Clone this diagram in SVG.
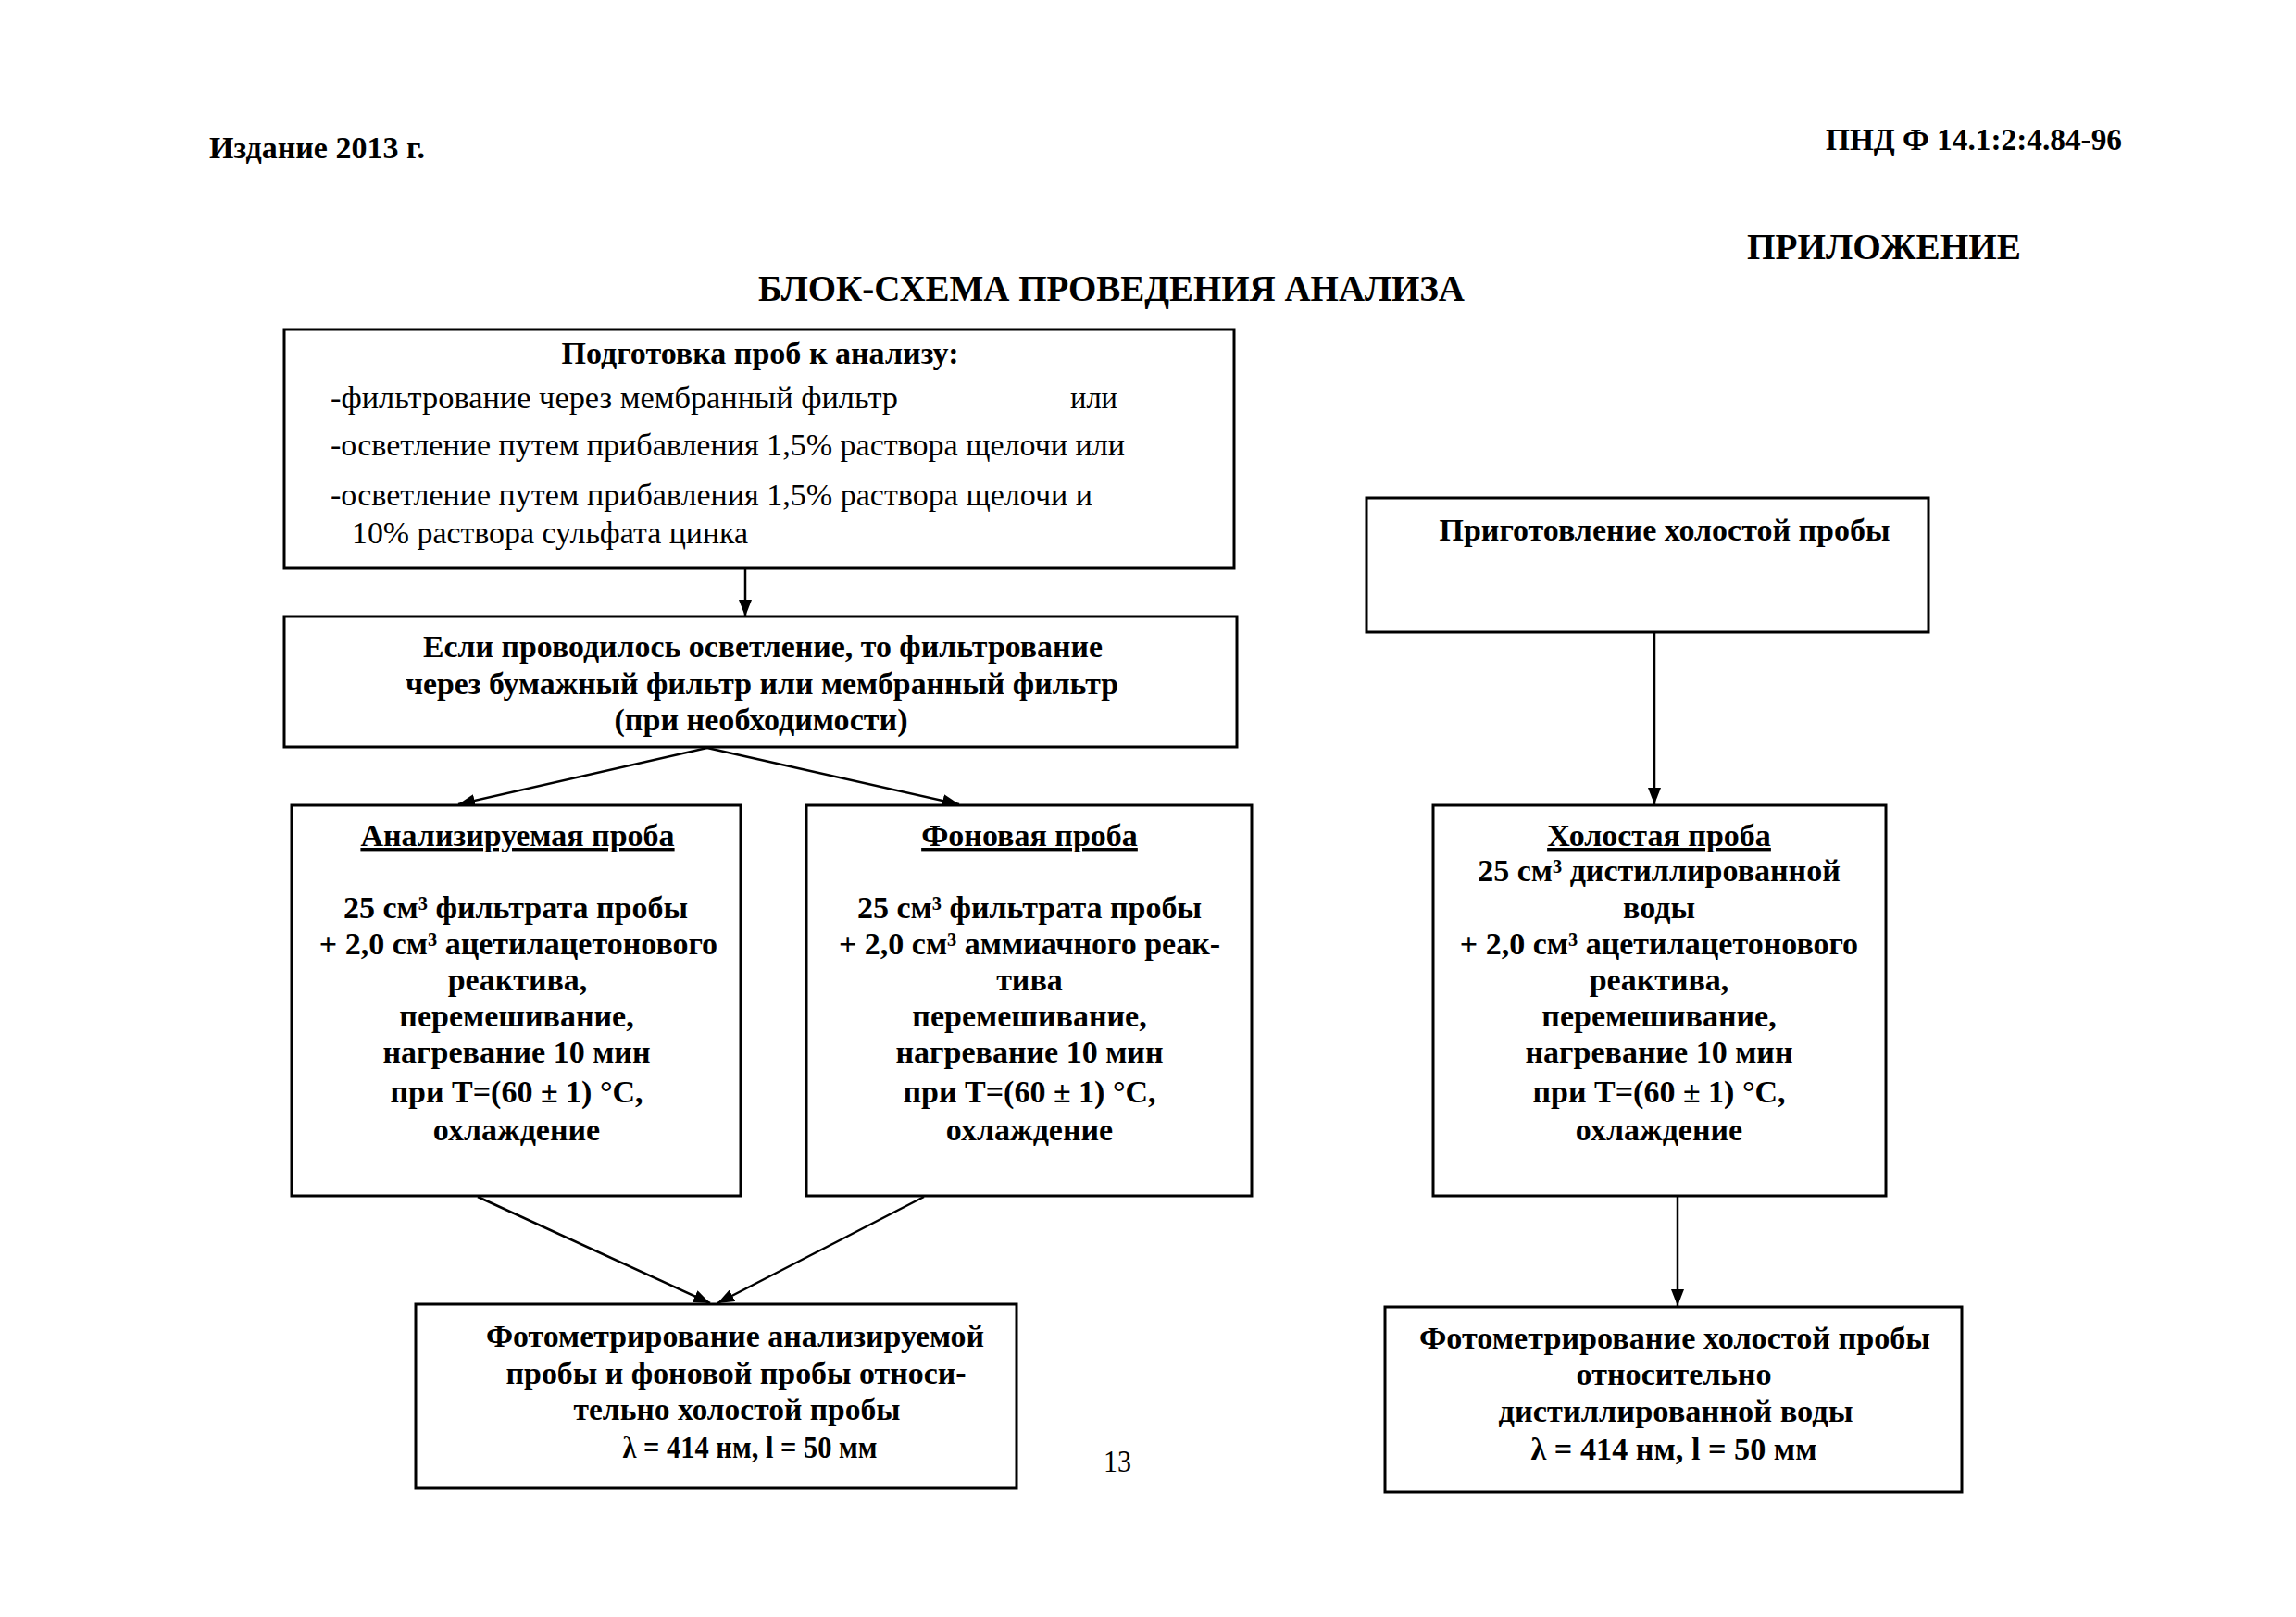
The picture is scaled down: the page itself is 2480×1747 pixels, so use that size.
<svg xmlns="http://www.w3.org/2000/svg" width="2480" height="1747" viewBox="0 0 2480 1747">
<defs>
<style>
.box{fill:#fff;stroke:#000;stroke-width:3}
.c{stroke:#000;stroke-width:2.5;fill:none;marker-end:url(#ah)}
text{font-family:"Liberation Serif","Times New Roman",serif;fill:#000}
.n{font-size:34px}
.b{font-size:34px;font-weight:bold}
.w{font-size:34px;font-weight:bold;text-anchor:middle}
.m{text-anchor:middle}
.u{text-decoration:underline}
</style>
<marker id="ah" markerUnits="userSpaceOnUse" markerWidth="18" markerHeight="14" refX="18" refY="7" orient="auto">
<path d="M0,0 L18,7 L0,14 z" fill="#000"/>
</marker>
</defs>
<rect width="2480" height="1747" fill="#fff"/>

<g id="header">
<text class="b" x="226" y="171" textLength="233" lengthAdjust="spacingAndGlyphs">Издание 2013 г.</text>
<text class="b" x="1972" y="162" textLength="320" lengthAdjust="spacingAndGlyphs">ПНД Ф 14.1:2:4.84-96</text>
<text class="b" x="1887" y="280" style="font-size:39px" textLength="296" lengthAdjust="spacingAndGlyphs">ПРИЛОЖЕНИЕ</text>
<text class="b" x="819" y="325" style="font-size:39px" textLength="763" lengthAdjust="spacingAndGlyphs">БЛОК-СХЕМА ПРОВЕДЕНИЯ АНАЛИЗА</text>
<text class="n" x="1207" y="1590" text-anchor="middle" textLength="30" lengthAdjust="spacingAndGlyphs">13</text>
</g>

<g id="connectors">
<line class="c" x1="805" y1="614" x2="805" y2="666"/>
<line class="c" x1="764" y1="808" x2="495" y2="869"/>
<line class="c" x1="764" y1="808" x2="1036" y2="869"/>
<line class="c" x1="1787" y1="683" x2="1787" y2="869"/>
<line class="c" x1="516" y1="1293" x2="767" y2="1408"/>
<line class="c" x1="998" y1="1293" x2="775" y2="1408"/>
<line class="c" x1="1812" y1="1293" x2="1812" y2="1411"/>
</g>

<g id="prep">
<rect class="box" x="307" y="356" width="1026" height="258"/>
<text class="b m" x="821" y="393" textLength="429" lengthAdjust="spacingAndGlyphs">Подготовка проб к анализу:</text>
<text class="n" x="357" y="441" textLength="613" lengthAdjust="spacingAndGlyphs">-фильтрование через мембранный фильтр</text>
<text class="n" x="1156" y="441" textLength="51" lengthAdjust="spacingAndGlyphs">или</text>
<text class="n" x="357" y="492" textLength="858" lengthAdjust="spacingAndGlyphs">-осветление путем прибавления 1,5% раствора щелочи или</text>
<text class="n" x="357" y="546" textLength="823" lengthAdjust="spacingAndGlyphs">-осветление путем прибавления 1,5% раствора щелочи и</text>
<text class="n" x="380" y="587" textLength="428" lengthAdjust="spacingAndGlyphs">10% раствора сульфата цинка</text>
</g>

<g id="filter">
<rect class="box" x="307" y="666" width="1029" height="141"/>
<text class="b m" x="824" y="710" textLength="734" lengthAdjust="spacingAndGlyphs">Если проводилось осветление, то фильтрование</text>
<text class="b m" x="823" y="750" textLength="770" lengthAdjust="spacingAndGlyphs">через бумажный фильтр или мембранный фильтр</text>
<text class="b m" x="822" y="789" textLength="317" lengthAdjust="spacingAndGlyphs">(при необходимости)</text>
</g>

<g id="blank-prep">
<rect class="box" x="1476" y="538" width="607" height="145"/>
<text class="b m" x="1798" y="584" textLength="487" lengthAdjust="spacingAndGlyphs">Приготовление холостой пробы</text>
</g>

<g id="sample">
<rect class="box" x="315" y="870" width="485" height="422"/>
<text class="w u" x="559" y="914">Анализируемая проба</text>
<text class="w" x="557" y="992">25 см³ фильтрата пробы</text>
<text class="w" x="560" y="1031">+ 2,0 см³ ацетилацетонового</text>
<text class="w" x="559" y="1070">реактива,</text>
<text class="w" x="558" y="1109">перемешивание,</text>
<text class="w" x="558" y="1148">нагревание 10 мин</text>
<text class="w" x="558" y="1191">при Т=(60 ± 1) °С,</text>
<text class="w" x="558" y="1232">охлаждение</text>
</g>

<g id="background">
<rect class="box" x="871" y="870" width="481" height="422"/>
<text class="w u" x="1112" y="914">Фоновая проба</text>
<text class="w" x="1112" y="992">25 см³ фильтрата пробы</text>
<text class="w" x="1112" y="1031">+ 2,0 см³ аммиачного реак-</text>
<text class="w" x="1112" y="1070">тива</text>
<text class="w" x="1112" y="1109">перемешивание,</text>
<text class="w" x="1112" y="1148">нагревание 10 мин</text>
<text class="w" x="1112" y="1191">при Т=(60 ± 1) °С,</text>
<text class="w" x="1112" y="1232">охлаждение</text>
</g>

<g id="blank">
<rect class="box" x="1548" y="870" width="489" height="422"/>
<text class="w u" x="1792" y="914">Холостая проба</text>
<text class="w" x="1792" y="952">25 см³ дистиллированной</text>
<text class="w" x="1792" y="992">воды</text>
<text class="w" x="1792" y="1031">+ 2,0 см³ ацетилацетонового</text>
<text class="w" x="1792" y="1070">реактива,</text>
<text class="w" x="1792" y="1109">перемешивание,</text>
<text class="w" x="1792" y="1148">нагревание 10 мин</text>
<text class="w" x="1792" y="1191">при Т=(60 ± 1) °С,</text>
<text class="w" x="1792" y="1232">охлаждение</text>
</g>

<g id="photo-sample">
<rect class="box" x="449" y="1409" width="649" height="199"/>
<text class="b m" x="794" y="1455" textLength="538" lengthAdjust="spacingAndGlyphs">Фотометрирование анализируемой</text>
<text class="b m" x="795" y="1495" textLength="497" lengthAdjust="spacingAndGlyphs">пробы и фоновой пробы относи-</text>
<text class="b m" x="796" y="1534" textLength="353" lengthAdjust="spacingAndGlyphs">тельно холостой пробы</text>
<text class="b m" x="810" y="1575" textLength="275" lengthAdjust="spacingAndGlyphs">λ = 414 нм, l = 50 мм</text>
</g>

<g id="photo-blank">
<rect class="box" x="1496" y="1412" width="623" height="200"/>
<text class="b m" x="1809" y="1457" textLength="552" lengthAdjust="spacingAndGlyphs">Фотометрирование холостой пробы</text>
<text class="b m" x="1808" y="1496" textLength="211" lengthAdjust="spacingAndGlyphs">относительно</text>
<text class="b m" x="1810" y="1536" textLength="383" lengthAdjust="spacingAndGlyphs">дистиллированной воды</text>
<text class="b m" x="1808" y="1577" textLength="309" lengthAdjust="spacingAndGlyphs">λ = 414 нм, l = 50 мм</text>
</g>
</svg>
